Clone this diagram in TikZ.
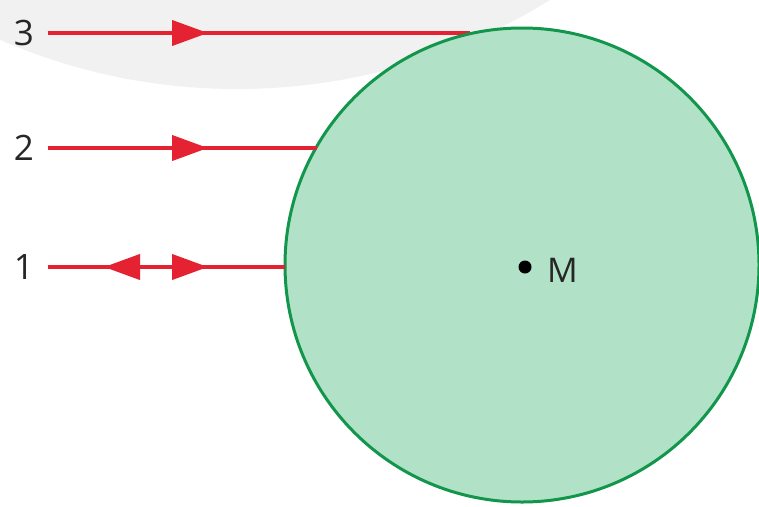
\documentclass[tikz,border=0pt]{standalone}
\usepackage{fontspec}
\setmainfont{Open Sans}
\usetikzlibrary{arrows.meta}
\definecolor{bgray}{RGB}{241,241,241}
\definecolor{mint}{RGB}{177,226,199}
\definecolor{dgreen}{RGB}{18,150,76}
\definecolor{rayred}{RGB}{228,34,50}
\tikzset{
  ray/.style={draw=rayred, line width=4pt},
  raytip/.style={draw=rayred, line width=4pt, -{Triangle[length=36pt,width=25pt,fill=rayred]}},
  numlabel/.style={font=\fontsize{35}{35}\selectfont, text=black!85, inner xsep=13.5pt, inner ysep=2pt, outer sep=0pt},
  sphere/.style={circle, draw=dgreen, fill=mint, line width=3pt, minimum size=474pt, inner sep=0pt, outer sep=0pt},
}
\begin{document}
\begin{tikzpicture}[x=1pt,y=-1pt]
\clip (0,0) rectangle (759,506);
\fill[white] (0,0) rectangle (759,506);
\fill[bgray] (237,-505) circle[radius=594];
% labels
\node[numlabel] (n3) at (24,33) {3};
\node[numlabel] (n2) at (24,148) {2};
\node[numlabel] (n1) at (24,267) {1};
% rays (drawn under the sphere)
\coordinate (c3) at (470,33);
\draw[ray] (n3) -- (c3);
\node[sphere] (sph) at (522,265) {};
\draw[ray] (n2) -- (n2 -| sph.150.2);
\draw[ray] (n1) -- (n1 -| sph.west);
% arrow heads
\coordinate (a3) at (208,33);
\coordinate (a2) at (208,148);
\coordinate (a1r) at (208,267);
\coordinate (a1l) at (104,267);
\draw[raytip] (n3) -- (a3);
\draw[raytip] (n2) -- (a2);
\draw[raytip] (n1) -- (a1r);
\draw[raytip] (160,267) -- (a1l);
% centre
\fill[black] (525,267) circle[radius=6.5];
\node[font=\fontsize{34}{34}\selectfont, text=black!85, anchor=west, inner sep=0pt] (M) at (547,270) {M};
\end{tikzpicture}
\end{document}
